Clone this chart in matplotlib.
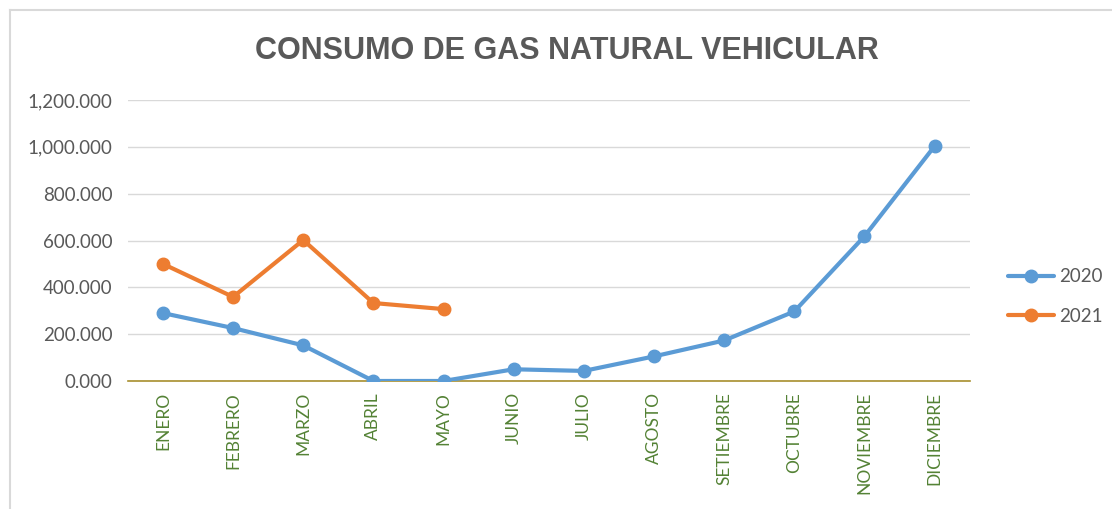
import numpy as np
import matplotlib.pyplot as plt
from matplotlib.lines import Line2D
from matplotlib.ticker import FuncFormatter

meses = ["ENERO", "FEBRERO", "MARZO", "ABRIL", "MAYO", "JUNIO", "JULIO",
         "AGOSTO", "SETIEMBRE", "OCTUBRE", "NOVIEMBRE", "DICIEMBRE"]
consumo_2020 = [290, 226, 152, 0, 0, 50, 43, 105, 173, 297, 618, 1003]
consumo_2021 = [500, 359, 602, 333, 307]
y_ticks = [0, 200, 400, 600, 800, 1000, 1200]

plt.rcParams['font.family'] = ['Lato', 'DejaVu Sans']

fig = plt.figure(figsize=(11.12, 5.09), dpi=100)
ax = fig.add_axes([0.115, 0.2515, 0.757, 0.552])

x = np.arange(len(meses))
ax.plot(x, consumo_2020, color="#5B9BD5", lw=3, marker="o", ms=9,
        solid_capstyle="round", label="2020", zorder=3)
ax.plot(x[:len(consumo_2021)], consumo_2021, color="#ED7D31", lw=3,
        marker="o", ms=9, solid_capstyle="round", label="2021", zorder=3)

ax.set_xlim(-0.5, len(meses) - 0.5)
ax.set_ylim(0, 1200)
ax.set_yticks(y_ticks)
ax.yaxis.set_major_formatter(FuncFormatter(lambda v, p: f"{v:,.3f}"))
ax.tick_params(axis="y", length=0, pad=11, labelsize=13.5, labelcolor="#595959")
ax.set_xticks(x)
ax.set_xticklabels(meses, rotation=90, color="#548235", fontsize=12.5)
ax.tick_params(axis="x", length=0, pad=8)
ax.grid(axis="y", color="#D9D9D9", lw=1)
ax.set_axisbelow(True)
for s in ["top", "right", "left"]:
    ax.spines[s].set_visible(False)
ax.spines["bottom"].set_color("#A88F2E")
ax.spines["bottom"].set_linewidth(1.2)
ax.spines["bottom"].set_zorder(2)

fig.text(0.51, 0.9, "CONSUMO DE GAS NATURAL VEHICULAR", ha="center", va="center",
         fontsize=22, fontweight="bold", color="#595959",
         family=["Liberation Sans", "DejaVu Sans"])

ax.legend(loc="center left", bbox_to_anchor=(1.025, 0.3), frameon=False,
          fontsize=13.5, labelcolor="#595959", handlelength=2.5, labelspacing=1.2,
          handletextpad=0.25)

# outer chart border (left and top)
fig.add_artist(Line2D([0.009, 0.009], [0, 0.98], color="#D9D9D9", lw=1.5))
fig.add_artist(Line2D([0.009, 1], [0.98, 0.98], color="#D9D9D9", lw=1.5))

fig.savefig("out.png", dpi=100)
